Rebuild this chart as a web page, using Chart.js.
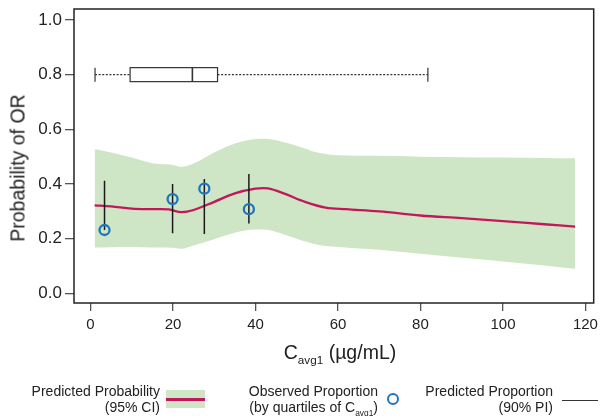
<!DOCTYPE html>
<html><head><meta charset="utf-8">
<script src="https://cdn.jsdelivr.net/npm/chart.js@4"></script>
<style>
html,body{margin:0;padding:0;background:#fff;}
#wrap{position:relative;width:601px;height:416px;font-family:"Liberation Sans",Arial,sans-serif;color:#222;overflow:hidden;}
canvas{position:absolute;left:0;top:0;}
.t{position:absolute;white-space:nowrap;}
.lg{position:absolute;font-size:14px;line-height:16px;text-align:right;white-space:nowrap;color:#222;}
sub{font-size:0.6em;vertical-align:-0.45em;line-height:0;}
</style></head>
<body><div id="wrap"><canvas id="c" width="601" height="416"></canvas>
<div class="t" id="ytitle" style="left:18px;top:168px;font-size:19.5px;transform:translate(-50%,-50%) rotate(-90deg);">Probability of OR</div>
<div class="t" id="xtitle" style="left:340px;top:352px;font-size:19.5px;transform:translate(-50%,-50%);">C<sub>avg1</sub> (µg/mL)</div>
<div class="lg" style="right:441px;top:383px;">Predicted Probability<br>(95% CI)</div>
<div style="position:absolute;left:166px;top:390px;width:39px;height:18px;background:#cfe6c6;"></div>
<div style="position:absolute;left:166px;top:398px;width:39px;height:2.5px;background:#c2185b;"></div>
<div class="lg" style="right:223px;top:383px;">Observed Proportion<br>(by quartiles of C<sub>avg1</sub>)</div>
<div style="position:absolute;left:387px;top:393px;width:8px;height:8px;border:2.2px solid #1f74bd;border-radius:50%;"></div>
<div class="lg" style="right:48px;top:383px;">Predicted Proportion<br>(90% PI)</div>
<div style="position:absolute;left:562px;top:400px;width:36px;height:1.4px;background:#333;"></div>
</div>
<script>
// ---- data ----
const curveX = [1,5,10,15,19,22,25,30,35,40,43,47,52,57,62,70,80,90,100,110,117.5];
const curveP = [0.322,0.318,0.310,0.308,0.307,0.297,0.305,0.335,0.366,0.383,0.384,0.365,0.335,0.314,0.308,0.300,0.285,0.275,0.264,0.253,0.244];
const bandX = [1,5,10,15,20,22,25,30,35,40,42,45,50,55,60,70,80,90,100,110,117.5];
const bandUpper = [0.528,0.515,0.497,0.476,0.470,0.463,0.475,0.515,0.548,0.565,0.566,0.560,0.540,0.515,0.505,0.503,0.500,0.498,0.497,0.495,0.494];
const bandLower = [0.168,0.169,0.170,0.168,0.167,0.163,0.175,0.198,0.222,0.234,0.234,0.225,0.200,0.178,0.170,0.160,0.145,0.130,0.117,0.102,0.090];
const obsX = [3.4,19.9,27.6,38.4];
const obsP = [0.232,0.345,0.383,0.308];
const piLo = [0.232,0.220,0.217,0.256];
const piHi = [0.412,0.400,0.418,0.437];
const boxStats = [1.1,9.6,24.7,30.8,81.8]; // min, q1, median, q3, max
const boxLevel = 0.8;
const xTicks = [0,20,40,60,80,100,120];
const yTicks = [0,0.2,0.4,0.6,0.8,1.0];

const pts = (xs, ys) => xs.map((x,i)=>({x:x,y:ys[i]}));

const datasets = [
  {data:pts(bandX,bandLower),borderWidth:0,pointRadius:0,fill:false,order:5,tension:0.4,cubicInterpolationMode:'monotone'},
  {data:pts(bandX,bandUpper),borderWidth:0,pointRadius:0,fill:'-1',backgroundColor:'#cfe6c6',order:4,tension:0.4,cubicInterpolationMode:'monotone'},
  {data:pts(curveX,curveP),borderColor:'#c2185b',borderWidth:2.3,pointRadius:0,fill:false,order:3,tension:0.35}
];
obsX.forEach((x,i)=>{
  datasets.push({data:[{x:x,y:piLo[i]},{x:x,y:piHi[i]}],borderColor:'#1a1a1a',borderWidth:1.5,pointRadius:0,fill:false,order:2});
});
datasets.push({data:pts(obsX,obsP),showLine:false,pointRadius:5,pointHoverRadius:5,pointBorderWidth:2.3,pointBorderColor:'#1f74bd',pointBackgroundColor:'rgba(0,0,0,0)',order:1});

const boxPlugin = {
  id:'boxframe',
  afterDatasetsDraw(chart){
    const ctx = chart.ctx, xs = chart.scales.x, ys = chart.scales.y, a = chart.chartArea;
    const yc = ys.getPixelForValue(boxLevel), h = 7;
    const px = boxStats.map(v=>xs.getPixelForValue(v));
    ctx.save();
    ctx.strokeStyle = '#333'; ctx.lineWidth = 1.2;
    ctx.setLineDash([2,1.6]);
    ctx.beginPath();
    ctx.moveTo(px[0],yc); ctx.lineTo(px[1],yc);
    ctx.moveTo(px[3],yc); ctx.lineTo(px[4],yc);
    ctx.stroke();
    ctx.setLineDash([]);
    ctx.beginPath();
    ctx.moveTo(px[0],yc-h); ctx.lineTo(px[0],yc+h);
    ctx.moveTo(px[4],yc-h); ctx.lineTo(px[4],yc+h);
    ctx.stroke();
    ctx.strokeRect(px[1],yc-h,px[3]-px[1],2*h);
    ctx.lineWidth = 1.6;
    ctx.beginPath(); ctx.moveTo(px[2],yc-h); ctx.lineTo(px[2],yc+h); ctx.stroke();
    ctx.strokeStyle = '#222'; ctx.lineWidth = 1.5;
    ctx.strokeRect(a.left,a.top,a.right-a.left,a.bottom-a.top);
    ctx.restore();
  }
};

new Chart(document.getElementById('c'),{
  type:'line',
  data:{datasets:datasets},
  plugins:[boxPlugin],
  options:{
    responsive:false,animation:false,devicePixelRatio:1,
    layout:{padding:{top:9,right:4,left:0,bottom:0}},
    plugins:{legend:{display:false},tooltip:{enabled:false}},
    scales:{
      x:{type:'linear',min:-4,max:122,
        afterBuildTicks:s=>{s.ticks = xTicks.map(v=>({value:v}));},
        afterFit:s=>{s.height = 113; s.paddingLeft = 0; s.paddingRight = 0;},
        grid:{drawOnChartArea:false,drawTicks:true,tickLength:8,color:'#555',lineWidth:1.3},
        border:{display:false},
        ticks:{font:{family:'"Liberation Sans", Arial, sans-serif',size:15},color:'#222',padding:5,maxRotation:0}
      },
      y:{type:'linear',min:-0.035,max:1.04,
        afterBuildTicks:s=>{s.ticks = yTicks.map(v=>({value:v}));},
        afterFit:s=>{s.width = 74; s.paddingTop = 0; s.paddingBottom = 0;},
        grid:{drawOnChartArea:false,drawTicks:true,tickLength:9,color:'#555',lineWidth:1.3},
        border:{display:false},
        ticks:{font:{family:'"Liberation Sans", Arial, sans-serif',size:17},color:'#222',padding:3,callback:v=>v.toFixed(1)}
      }
    }
  }
});
</script>
</body></html>
